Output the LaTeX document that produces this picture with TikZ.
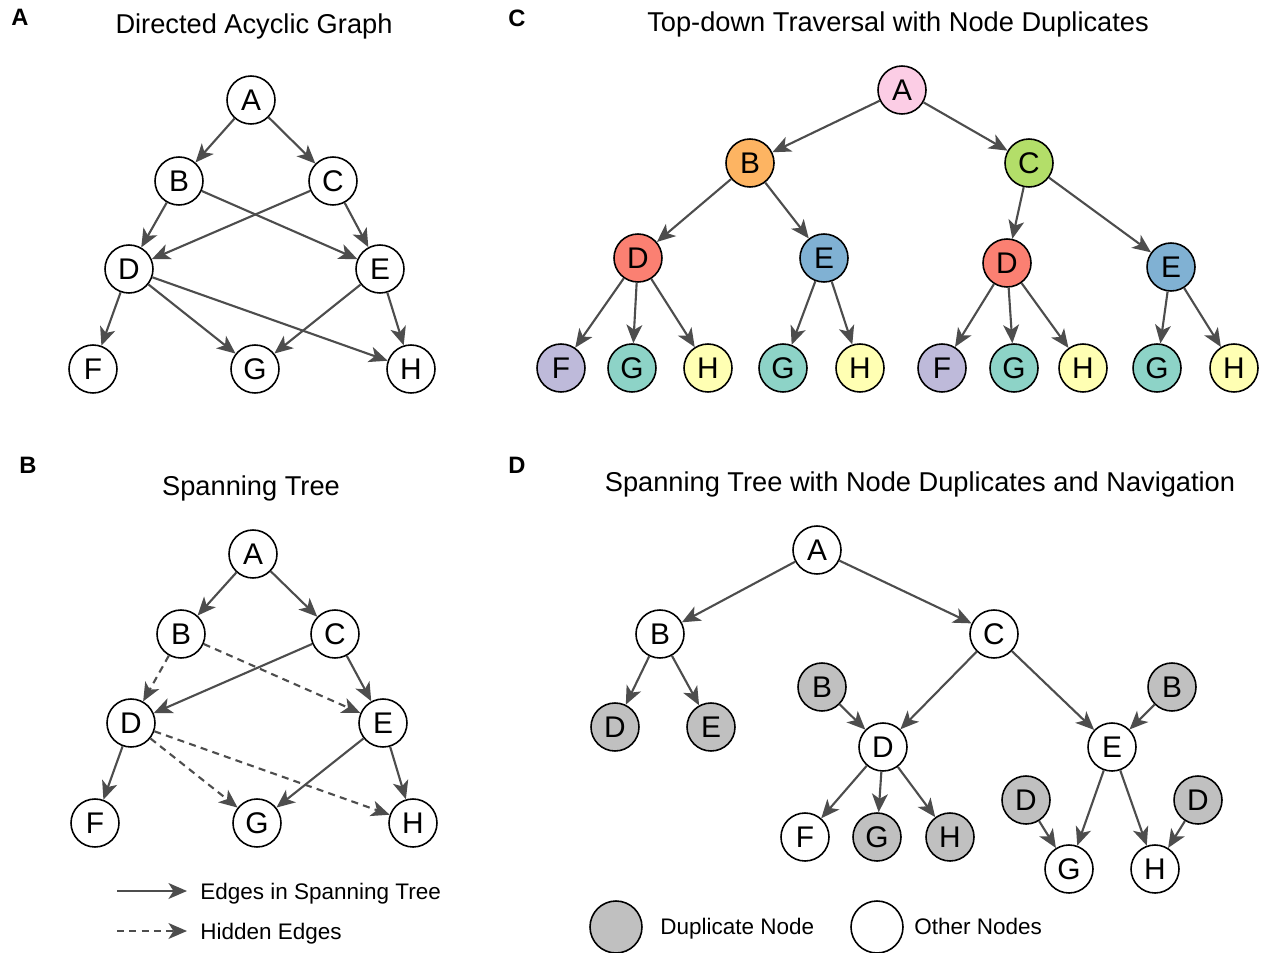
\documentclass[tikz,border=0pt]{standalone}
\usepackage{fontspec}
\setmainfont{Liberation Sans}
\usetikzlibrary{positioning,arrows.meta}
\definecolor{EdgeGray}{HTML}{4D4D4D}
\definecolor{DupGray}{HTML}{C0C0C0}
\definecolor{SetPink}{HTML}{FCCDE5}
\definecolor{SetOrange}{HTML}{FDB462}
\definecolor{SetGreen}{HTML}{B3DE69}
\definecolor{SetRed}{HTML}{FB8072}
\definecolor{SetBlue}{HTML}{80B1D3}
\definecolor{SetPurple}{HTML}{BEBADA}
\definecolor{SetTeal}{HTML}{8DD3C7}
\definecolor{SetYellow}{HTML}{FFFFB3}

\begin{document}
\begin{tikzpicture}[
  x=0.02cm, y=-0.02cm,
  vtx/.style={circle, draw=black, line width=0.9pt, fill=white, minimum size=0.96cm, inner sep=0pt, font=\fontsize{17}{19}\selectfont},
  dup/.style={vtx, fill=DupGray},
  title/.style={anchor=base, font=\fontsize{15.5}{18}\selectfont},
  panel/.style={anchor=base, font=\fontsize{13.5}{16}\selectfont\bfseries},
  legend/.style={anchor=base west, inner sep=0pt, font=\fontsize{12.8}{15}\selectfont},
  arrow/.style={-{Stealth[length=10.5pt, width=9pt, inset=2.8pt]}, line width=1.2pt, draw=EdgeGray},
  hidden/.style={arrow, dash pattern=on 4pt off 3pt}
]
\useasboundingbox (0,0) rectangle (1264,953);

% panel A
\node[panel] (labA) at (20,26) {A};
\node[title] (titA) at (254,34) {Directed Acyclic Graph};
\node[vtx] (aA) at (251,100) {A};
\node[vtx] (aB) at (179,181) {B};
\node[vtx] (aC) at (333,181) {C};
\node[vtx] (aD) at (129,269) {D};
\node[vtx] (aE) at (380,269) {E};
\node[vtx] (aF) at (93,369) {F};
\node[vtx] (aG) at (255,369) {G};
\node[vtx] (aH) at (411,369) {H};
\draw[arrow] (aA) -- (aB);
\draw[arrow] (aA) -- (aC);
\draw[arrow] (aB) -- (aD);
\draw[arrow] (aB) -- (aE);
\draw[arrow] (aC) -- (aD);
\draw[arrow] (aC) -- (aE);
\draw[arrow] (aD) -- (aF);
\draw[arrow] (aD) -- (aG);
\draw[arrow] (aD) -- (aH);
\draw[arrow] (aE) -- (aG);
\draw[arrow] (aE) -- (aH);

% panel B
\node[panel] (labB) at (28,473) {B};
\node[title] (titB) at (251,495) {Spanning Tree};
\node[vtx] (bA) at (253,554) {A};
\node[vtx] (bB) at (181,634) {B};
\node[vtx] (bC) at (335,634) {C};
\node[vtx] (bD) at (131,723) {D};
\node[vtx] (bE) at (383,723) {E};
\node[vtx] (bF) at (95,823) {F};
\node[vtx] (bG) at (257,823) {G};
\node[vtx] (bH) at (413,823) {H};
\draw[arrow] (bA) -- (bB);
\draw[arrow] (bA) -- (bC);
\draw[arrow] (bC) -- (bD);
\draw[arrow] (bC) -- (bE);
\draw[arrow] (bD) -- (bF);
\draw[arrow] (bE) -- (bG);
\draw[arrow] (bE) -- (bH);
\draw[hidden] (bB) -- (bD);
\draw[hidden] (bB) -- (bE);
\draw[hidden] (bD) -- (bG);
\draw[hidden] (bD) -- (bH);
% legend B
\coordinate (ls0) at (117,891);
\coordinate (ls1) at (187,891);
\coordinate (lh0) at (117,931);
\coordinate (lh1) at (187,931);
\draw[arrow] (ls0) -- (ls1);
\draw[hidden] (lh0) -- (lh1);
\node[legend] (lsT) at (200,899) {Edges in Spanning Tree};
\node[legend] (lhT) at (200,939) {Hidden Edges};

% panel C
\node[panel] (labC) at (517,27) {C};
\node[title] (titC) at (898,32) {Top-down Traversal with Node Duplicates};
\node[vtx, fill=SetPink] (cA) at (902,90) {A};
\node[vtx, fill=SetOrange] (cB) at (750,163) {B};
\node[vtx, fill=SetGreen] (cC) at (1029,163) {C};
\node[vtx, fill=SetRed] (cD1) at (638,258) {D};
\node[vtx, fill=SetBlue] (cE1) at (824,258) {E};
\node[vtx, fill=SetRed] (cD2) at (1007,263) {D};
\node[vtx, fill=SetBlue] (cE2) at (1171,267) {E};
\node[vtx, fill=SetPurple] (cF1) at (561,368) {F};
\node[vtx, fill=SetTeal] (cG1) at (632,368) {G};
\node[vtx, fill=SetYellow] (cH1) at (708,368) {H};
\node[vtx, fill=SetTeal] (cG2) at (783,368) {G};
\node[vtx, fill=SetYellow] (cH2) at (860,368) {H};
\node[vtx, fill=SetPurple] (cF2) at (942,368) {F};
\node[vtx, fill=SetTeal] (cG3) at (1014,368) {G};
\node[vtx, fill=SetYellow] (cH3) at (1083,368) {H};
\node[vtx, fill=SetTeal] (cG4) at (1157,368) {G};
\node[vtx, fill=SetYellow] (cH4) at (1234,368) {H};
\draw[arrow] (cA) -- (cB);
\draw[arrow] (cA) -- (cC);
\draw[arrow] (cB) -- (cD1);
\draw[arrow] (cB) -- (cE1);
\draw[arrow] (cC) -- (cD2);
\draw[arrow] (cC) -- (cE2);
\draw[arrow] (cD1) -- (cF1);
\draw[arrow] (cD1) -- (cG1);
\draw[arrow] (cD1) -- (cH1);
\draw[arrow] (cE1) -- (cG2);
\draw[arrow] (cE1) -- (cH2);
\draw[arrow] (cD2) -- (cF2);
\draw[arrow] (cD2) -- (cG3);
\draw[arrow] (cD2) -- (cH3);
\draw[arrow] (cE2) -- (cG4);
\draw[arrow] (cE2) -- (cH4);

% panel D
\node[panel] (labD) at (517,473) {D};
\node[title] (titD) at (920,491) {Spanning Tree with Node Duplicates and Navigation};
\node[vtx] (dA) at (817,550) {A};
\node[vtx] (dB) at (660,634) {B};
\node[vtx] (dC) at (994,634) {C};
\node[dup] (dDx) at (615,727) {D};
\node[dup] (dEx) at (711,727) {E};
\node[dup] (dBx1) at (822,687) {B};
\node[vtx] (dD) at (883,747) {D};
\node[vtx] (dF) at (805,837) {F};
\node[dup] (dGx) at (877,837) {G};
\node[dup] (dHx) at (950,837) {H};
\node[dup] (dBx2) at (1172,687) {B};
\node[vtx] (dE) at (1112,747) {E};
\node[dup] (dDx1) at (1026,800) {D};
\node[dup] (dDx2) at (1198,800) {D};
\node[vtx] (dG) at (1069,869) {G};
\node[vtx] (dH) at (1155,869) {H};
\draw[arrow] (dA) -- (dB);
\draw[arrow] (dA) -- (dC);
\draw[arrow] (dB) -- (dDx);
\draw[arrow] (dB) -- (dEx);
\draw[arrow] (dC) -- (dD);
\draw[arrow] (dC) -- (dE);
\draw[arrow] (dBx1) -- (dD);
\draw[arrow] (dD) -- (dF);
\draw[arrow] (dD) -- (dGx);
\draw[arrow] (dD) -- (dHx);
\draw[arrow] (dBx2) -- (dE);
\draw[arrow] (dE) -- (dG);
\draw[arrow] (dE) -- (dH);
\draw[arrow] (dDx1) -- (dG);
\draw[arrow] (dDx2) -- (dH);
% legend D
\node[dup, minimum size=1.04cm] (ldDup) at (616,927) {};
\node[legend] (ldDupT) at (660,934) {Duplicate Node};
\node[vtx, minimum size=1.04cm] (ldOth) at (877,927) {};
\node[legend] (ldOthT) at (914,934) {Other Nodes};
\end{tikzpicture}
\end{document}
